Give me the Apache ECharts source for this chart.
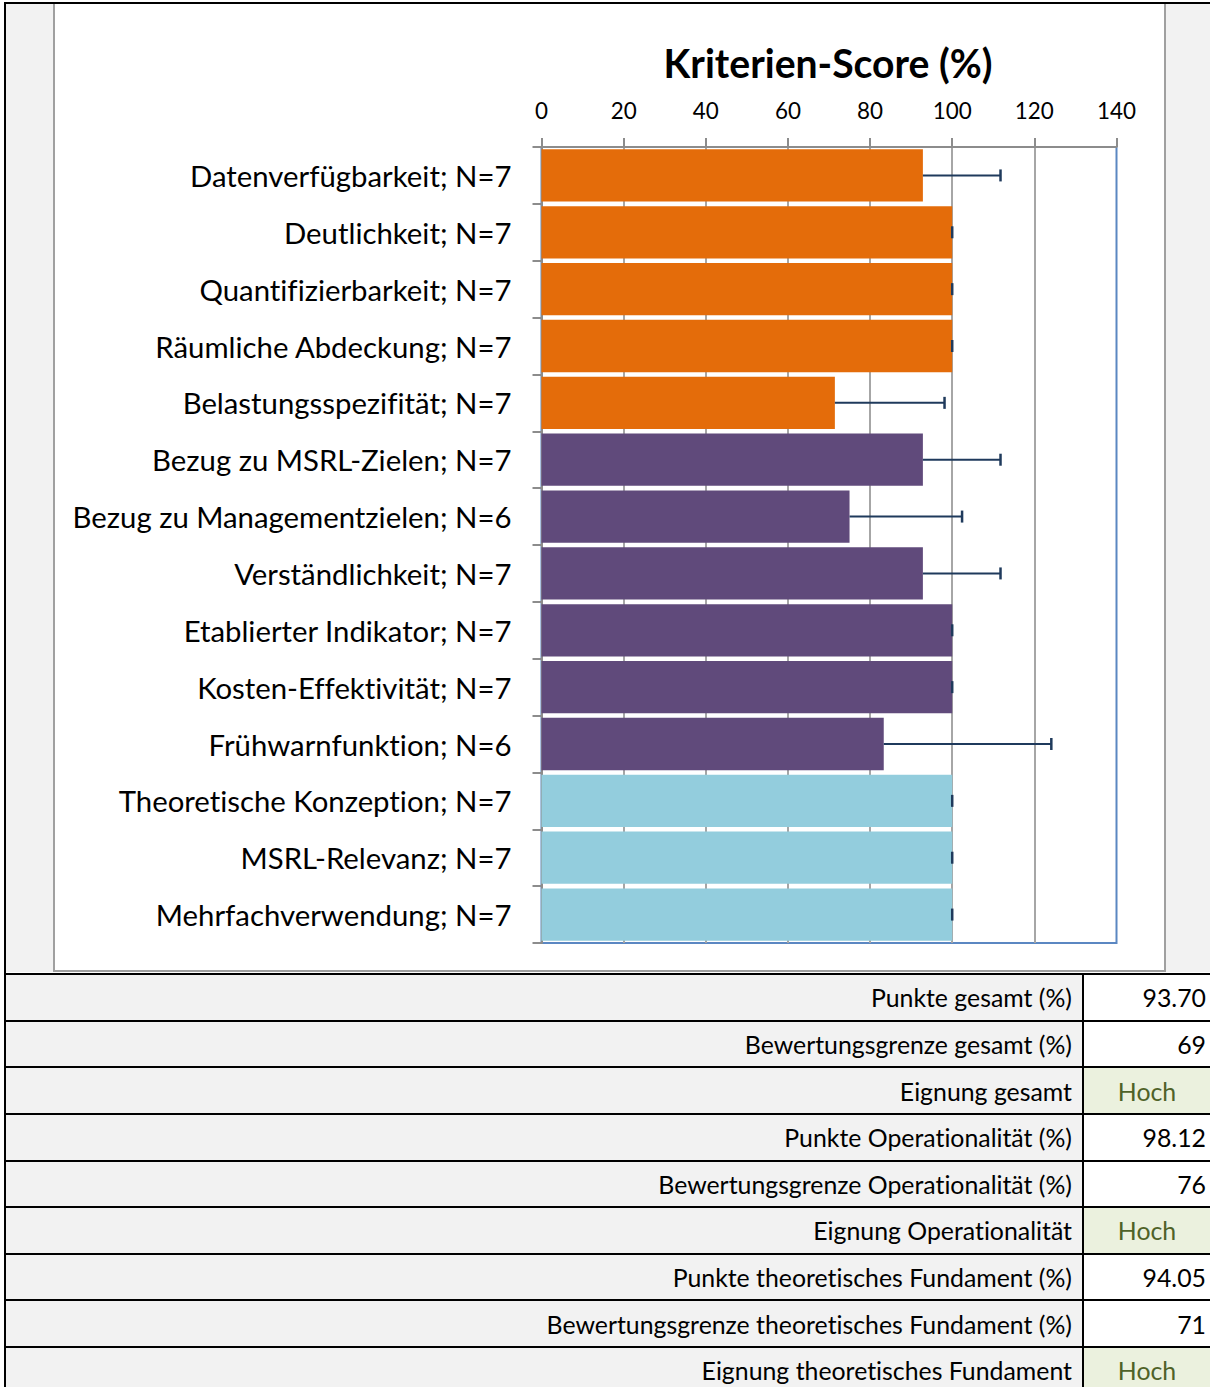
<!DOCTYPE html>
<html><head><meta charset="utf-8">
<script src="https://cdn.jsdelivr.net/npm/echarts@6/dist/echarts.min.js"></script>
<style>
html,body{margin:0;padding:0;background:#fff;width:1210px;height:1387px;overflow:hidden;font-family:Lato,sans-serif;font-variant-ligatures:none;font-feature-settings:"liga" 0,"clig" 0,"dlig" 0;}
#chart, #chart *{font-variant-ligatures:none;font-feature-settings:"liga" 0,"clig" 0,"dlig" 0;}
.abs{position:absolute;box-sizing:border-box;}
.cell{position:absolute;display:flex;align-items:center;white-space:nowrap;color:#000;}
</style></head><body>
<div id="frame"></div>
<div id="chart" style="position:absolute;left:0;top:0;width:1210px;height:972px;"></div>
<script>
// ---- data ----
const categories = [
  'Datenverfügbarkeit; N=7',
  'Deutlichkeit; N=7',
  'Quantifizierbarkeit; N=7',
  'Räumliche Abdeckung; N=7',
  'Belastungsspezifität; N=7',
  'Bezug zu MSRL-Zielen; N=7',
  'Bezug zu Managementzielen; N=6',
  'Verständlichkeit; N=7',
  'Etablierter Indikator; N=7',
  'Kosten-Effektivität; N=7',
  'Frühwarnfunktion; N=6',
  'Theoretische Konzeption; N=7',
  'MSRL-Relevanz; N=7',
  'Mehrfachverwendung; N=7'
];
const scores = [92.86, 100, 100, 100, 71.43, 92.86, 75, 92.86, 100, 100, 83.33, 100, 100, 100];
const errors = [18.9, 0, 0, 0, 26.7, 18.9, 27.4, 18.9, 0, 0, 40.8, 0, 0, 0];
const groups = [0, 0, 0, 0, 0, 1, 1, 1, 1, 1, 1, 2, 2, 2];
const axisMin = 0, axisMax = 140, axisStep = 20;
const chartTitle = 'Kriterien-Score (%)';
const tableLabels = [
  'Punkte gesamt (%)',
  'Bewertungsgrenze gesamt (%)',
  'Eignung gesamt',
  'Punkte Operationalität (%)',
  'Bewertungsgrenze Operationalität (%)',
  'Eignung Operationalität',
  'Punkte theoretisches Fundament (%)',
  'Bewertungsgrenze theoretisches Fundament (%)',
  'Eignung theoretisches Fundament'
];
const tableValues = ['93.70', '69', 'Hoch', '98.12', '76', 'Hoch', '94.05', '71', 'Hoch'];

// ---- styles ----
const groupColors = ['#E46C0A', '#604A7B', '#93CDDD'];
const FONT = 'Lato';
function fit(text, target, weight) {
  const c = document.createElement('canvas').getContext('2d');
  c.font = (weight || 'normal') + ' 100px ' + FONT;
  return +(100 * target / c.measureText(text).width).toFixed(2);
}
const catSize = fit('Bezug zu Managementzielen; N=6', 439);
const tickSize = fit('140', 39);
const titleSize = fit(chartTitle, 329, 'bold');
const tableSize = fit('Bewertungsgrenze theoretisches Fundament (%)', 526);

// ---- frame ----
const frame = document.getElementById('frame');
function box(l, t, w, h, bg) {
  const d = document.createElement('div');
  d.className = 'abs';
  d.style.cssText = `left:${l}px;top:${t}px;width:${w}px;height:${h}px;background:${bg};`;
  frame.appendChild(d);
  return d;
}
box(6, 4, 47, 968, '#F2F2F2');
box(1166, 4, 44, 968, '#F2F2F2');
box(53, 3, 2, 969, '#A0A0A0');
box(1164, 3, 2, 969, '#A0A0A0');
box(53, 970, 1113, 2, '#A0A0A0');

// table
const row0 = 974, rowH = 46.63;
tableLabels.forEach((lab, i) => {
  const top = row0 + i * rowH;
  box(6, top, 1076, rowH, '#F2F2F2');
  const isText = isNaN(parseFloat(tableValues[i]));
  box(1084, top, 126, rowH, isText ? '#EBF1DE' : '#FFFFFF');
  const l = document.createElement('div');
  l.className = 'cell';
  l.style.cssText += `left:6px;top:${top}px;width:1066px;height:${rowH}px;justify-content:flex-end;font-size:${tableSize}px;`;
  l.textContent = lab;
  frame.appendChild(l);
  const v = document.createElement('div');
  v.className = 'cell';
  v.style.cssText += `left:1084px;top:${top}px;width:${isText ? 126 : 122}px;height:${rowH}px;justify-content:${isText ? 'center' : 'flex-end'};font-size:${tableSize}px;color:${isText ? '#4F6228' : '#000'};`;
  v.textContent = tableValues[i];
  frame.appendChild(v);
});
for (let k = 0; k <= tableLabels.length; k++) {
  box(4, row0 + k * rowH - 1, 1206, 2, '#000');
}
box(1082, row0, 2, 420, '#000');
box(4, 2, 1206, 2, '#000');
box(4, 2, 2, 1385, '#000');

// ---- chart ----
const chart = echarts.init(document.getElementById('chart'), null, { renderer: 'svg' });
const option = {
  animation: false,
  title: {
    text: chartTitle, left: 828, top: 62, textAlign: 'center', textVerticalAlign: 'middle', padding: 0,
    textStyle: { fontFamily: FONT, fontWeight: 'bold', fontSize: titleSize, color: '#000' }
  },
  grid: {
    left: 541.5, right: 93.5, top: 147, bottom: 29, containLabel: false, outerBoundsMode: 'none',
    show: true, borderColor: '#5B87C2', borderWidth: 2, backgroundColor: 'rgba(0,0,0,0)'
  },
  xAxis: {
    type: 'value', position: 'top', min: axisMin, max: axisMax, interval: axisStep,
    axisLine: { show: true, lineStyle: { color: '#8C8C8C', width: 2 } },
    axisTick: { show: true, length: 9, lineStyle: { color: '#8C8C8C', width: 2 } },
    axisLabel: { fontFamily: FONT, fontSize: tickSize, color: '#000', margin: 26 },
    splitLine: { show: true, showMinLine: false, showMaxLine: false, lineStyle: { color: '#A6A6A6', width: 2 } }
  },
  yAxis: {
    type: 'category', inverse: true, data: categories,
    axisLine: { show: true, lineStyle: { color: '#8C8C8C', width: 2 } },
    axisTick: { show: true, length: 9, lineStyle: { color: '#8C8C8C', width: 2 } },
    axisLabel: { fontFamily: FONT, fontSize: catSize, color: '#000', margin: 30, padding: [0, 0, 4, 0] },
    splitLine: { show: false }
  },
  series: [
    {
      type: 'bar', z: 2, barCategoryGap: '8%',
      data: scores.map((v, i) => ({ value: v, itemStyle: { color: groupColors[groups[i]] } }))
    },
    {
      type: 'custom', z: 5,
      encode: { x: 0, y: 1 },
      data: scores.map((v, i) => [v, i, errors[i]]),
      renderItem: function (params, api) {
        const v = api.value(0), c = api.value(1), e = api.value(2);
        const p0 = api.coord([v, c]);
        const p1 = api.coord([v + e, c]);
        const ch = 6;
        return {
          type: 'group',
          children: [
            { type: 'line', shape: { x1: p0[0], y1: p0[1], x2: p1[0], y2: p1[1] }, style: { stroke: '#1F3A5C', lineWidth: 2 } },
            { type: 'line', shape: { x1: p1[0], y1: p1[1] - ch, x2: p1[0], y2: p1[1] + ch }, style: { stroke: '#1F3A5C', lineWidth: 2.5 } }
          ]
        };
      }
    }
  ]
};
chart.setOption(option);
</script>
</body></html>
